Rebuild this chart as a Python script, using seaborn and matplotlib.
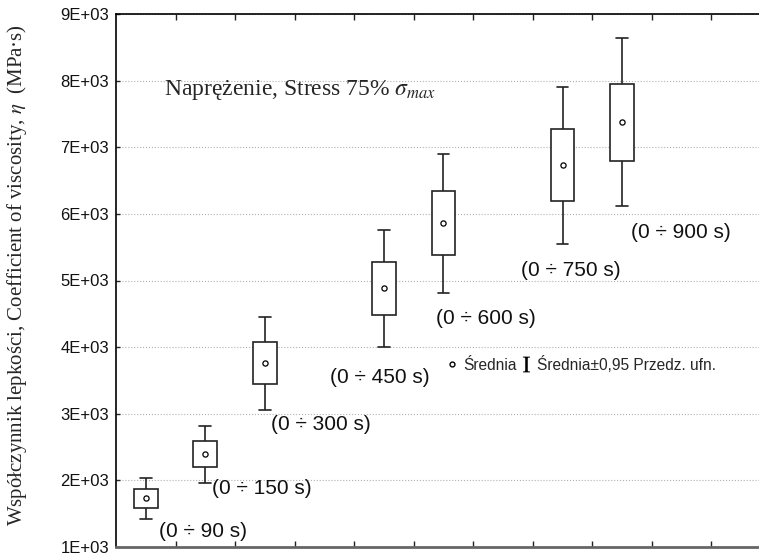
import numpy as np
import pandas as pd
import matplotlib
matplotlib.use("Agg")
import matplotlib.pyplot as plt
from matplotlib.lines import Line2D
import seaborn as sns

# mean / box (mean +- SE) / whiskers (mean +- 0.95 CI)
positions = [0.5, 1.5, 2.5, 4.5, 5.5, 7.5, 8.5]
means = [1730, 2400, 3755, 4880, 5860, 6735, 7385]
box_lo = [1585, 2195, 3440, 4475, 5385, 6195, 6800]
box_hi = [1870, 2590, 4075, 5280, 6340, 7270, 7955]
ci_lo = [1420, 1960, 3060, 4000, 4815, 5550, 6120]
ci_hi = [2030, 2820, 4450, 5765, 6900, 7905, 8635]
group_labels = ["(0 ÷ 90 s)", "(0 ÷ 150 s)", "(0 ÷ 300 s)", "(0 ÷ 450 s)",
                "(0 ÷ 600 s)", "(0 ÷ 750 s)", "(0 ÷ 900 s)"]

yticks = [1000, 2000, 3000, 4000, 5000, 6000, 7000, 8000, 9000]
ytick_labels = ["1E+03", "2E+03", "3E+03", "4E+03", "5E+03",
                "6E+03", "7E+03", "8E+03", "9E+03"]
xticks = [1, 2, 3, 4, 5, 6, 7, 8, 9, 10]

# where each group label sits (left edge, vertical centre)
label_x = [0.72, 1.62, 2.6, 3.6, 5.38, 6.8, 8.65]
label_y = [1226, 1885, 2835, 3550, 4425, 5155, 5715]

sns.set_theme(style="white")
plt.rcParams["font.family"] = ["Liberation Sans", "DejaVu Sans"]
plt.rcParams["mathtext.fontset"] = "stix"

# five values per group -> quartiles land exactly on box edges, min/max on whiskers
rows = []
for p, a, b, m, c, d in zip(positions, ci_lo, box_lo, means, box_hi, ci_hi):
    for v in (a, b, m, c, d):
        rows.append({"pos": p, "value": v})
df = pd.DataFrame(rows)
mean_df = pd.DataFrame({"pos": positions, "mean": means})

fig = plt.figure(figsize=(7.59, 5.55), dpi=100)
ax = fig.add_axes([116 / 759, 8 / 555, 643 / 759, 533 / 555])

sns.boxplot(data=df, x="pos", y="value", native_scale=True, whis=np.inf,
            width=0.4, color="white", linewidth=1.2, linecolor="#222222",
            showfliers=False, medianprops={"linewidth": 0}, ax=ax)
sns.scatterplot(data=mean_df, x="pos", y="mean", marker="o", s=14,
                facecolor="white", edgecolor="black", linewidth=0.9,
                zorder=5, ax=ax)

for txt, x, y in zip(group_labels, label_x, label_y):
    ax.text(x, y, txt, fontsize=15, ha="left", va="center", color="#111111")

ax.text(0.81, 7860, "Naprężenie, Stress 75% $\\sigma_{max}$",
        fontsize=17, family="Liberation Serif", ha="left", va="center")

ax.set_xlim(0, 10.8)
ax.set_ylim(1000, 9000)
ax.set_xticks(xticks)
ax.set_xticklabels([])
ax.set_yticks(yticks)
ax.set_yticklabels(ytick_labels, fontsize=12)
ax.tick_params(axis="x", direction="in", length=4, width=1, top=True,
               bottom=True, colors="#222222")
ax.tick_params(axis="y", direction="in", length=3, width=1, left=True,
               pad=5, labelcolor="#111111")

ax.yaxis.grid(True, linestyle=":", linewidth=0.8, color="#b0b0b0")
ax.xaxis.grid(False)
ax.set_axisbelow(True)

for side in ("left", "top"):
    ax.spines[side].set_color("black")
    ax.spines[side].set_linewidth(1.2)
ax.spines["bottom"].set_color("#666666")
ax.spines["bottom"].set_linewidth(2)
ax.spines["right"].set_visible(False)

ax.set_xlabel("")
ax.set_ylabel("Współczynnik lepkości, Coefficient of viscosity, $\\eta$  (MPa·s)",
              family="Liberation Serif", fontsize=15)
ax.yaxis.set_label_coords(-0.136, 0.51)

# legend: open circle = mean, I-beam = mean +- 0.95 CI
ci_handle = Line2D([], [], linestyle="none", marker="$\\mathrm{I}$",
                   markersize=11, color="black", markeredgewidth=0.2)
mean_handle = Line2D([], [], linestyle="none", marker="o", markersize=3.5,
                     markerfacecolor="white", markeredgecolor="black")
ax.legend([mean_handle, ci_handle], ["Średnia", "Średnia±0,95 Przedz. ufn."],
          loc="center left", bbox_to_anchor=(0.513, 0.343), ncol=2,
          frameon=False, fontsize=11.2, handlelength=0.8, handletextpad=0.3,
          columnspacing=0.2, borderpad=0, borderaxespad=0)

fig.savefig("out.png", dpi=100)
